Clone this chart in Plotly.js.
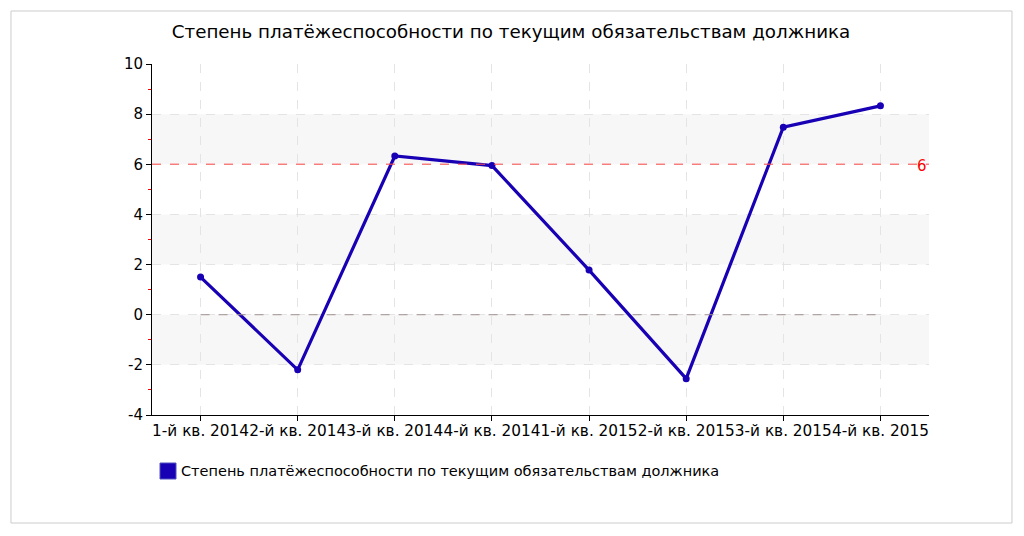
<!DOCTYPE html>
<html><head><meta charset="utf-8">
<script src="https://cdn.plot.ly/plotly-3.0.1.min.js"></script>
<style>html,body{margin:0;padding:0;background:#fff}#c{width:1024px;height:536px}</style>
</head><body><div id="c"></div>
<script>
const categories = ["1-й кв. 2014","2-й кв. 2014","3-й кв. 2014","4-й кв. 2014","1-й кв. 2015","2-й кв. 2015","3-й кв. 2015","4-й кв. 2015"];
const values = [1.5, -2.2, 6.33, 5.95, 1.78, -2.55, 7.48, 8.33];
const seriesName = "Степень платёжеспособности по текущим обязательствам должника";
const titleText = "Степень платёжеспособности по текущим обязательствам должника";
const yTickVals = [-4, -2, 0, 2, 4, 6, 8, 10];
const yTickText = ["-4", "-2", "0", "2", "4", "6", "8", "10"];
const thresholdValue = 6;
const bands = [[6,8],[2,4],[-2,0]];

const idx = categories.map((c,i)=>i);
const font = "DejaVu Sans, Verdana, sans-serif";
const lineColor = "#1800b4";

const traces = [
  {x: idx, y: values, type: "scatter", mode: "lines+markers", showlegend: false,
   line: {color: lineColor, width: 3.2}, marker: {color: lineColor, size: 7}}
];

const shapes = [];
bands.forEach(b => shapes.push({type:"rect", xref:"paper", yref:"y", x0:0, x1:1, y0:b[0], y1:b[1], fillcolor:"#f7f7f7", line:{width:0}, layer:"below"}));
shapes.push({type:"line", xref:"paper", yref:"y", x0:0, x1:1, y0:thresholdValue, y1:thresholdValue, line:{color:"rgba(255,80,80,0.7)", width:1.5, dash:"dash"}});
shapes.push({type:"line", xref:"x", yref:"y", x0:idx[0], x1:idx[idx.length-1], y0:0, y1:0, line:{color:"#a09090", width:1, dash:"dash"}});
shapes.push({type:"rect", xref:"paper", yref:"paper", x0:-0.1815, x1:1.1068, y0:-0.3077, y1:1.151, line:{color:"#cccccc", width:1}, fillcolor:"rgba(0,0,0,0)"});
// legend swatch
shapes.push({type:"rect", xref:"paper", yref:"paper", x0:(160-152)/777, x1:(176-152)/777, y0:(415-479)/351, y1:(415-463)/351, line:{color:"#5050c0", width:1}, fillcolor:lineColor});

const layout = {
  width: 1024, height: 536,
  margin: {l:152, r:95, t:64, b:121},
  paper_bgcolor: "#fff", plot_bgcolor: "rgba(0,0,0,0)",
  font: {family: font, size: 15, color: "#000"},
  title: {text: titleText, x: 511/1024, xref: "container", xanchor: "center", y: 1 - 32/536, yanchor: "middle", font: {family: font, size: 18.3, color: "#000"}},
  xaxis: {range: [-0.5, 7.5], tickvals: idx, ticktext: categories, tickangle: 0, showline: true, linecolor: "#000", linewidth: 1,
          ticks: "outside", ticklen: 5, tickcolor: "#000", showgrid: true, gridcolor: "#e4e4e4", griddash: "dash",
          zeroline: false, tickfont: {family: font, size: 15.3}, ticklabelstandoff: -3, fixedrange: true},
  yaxis: {range: [-4, 10], tickvals: yTickVals, ticktext: yTickText, showline: true, linecolor: "#000", linewidth: 1,
          ticks: "outside", ticklen: 5, tickcolor: "#000", showgrid: true, gridcolor: "#e4e4e4", griddash: "dash",
          zeroline: false, tickfont: {family: font, size: 15},
          minor: {dtick: 1, tick0: 0, ticks: "outside", ticklen: 3, tickcolor: "red", showgrid: false}},
  shapes: shapes,
  annotations: [
    {xref:"paper", yref:"y", x:1, y:thresholdValue, text:String(thresholdValue), showarrow:false, xanchor:"right", yanchor:"middle", yshift:-2, font:{family:font, size:15, color:"red"}},
    {xref:"paper", yref:"paper", x:(179-152)/777, y:(415-471)/351, text:seriesName, showarrow:false, xanchor:"left", yanchor:"middle", font:{family:font, size:14.5, color:"#000"}}
  ],
  showlegend: false
};
Plotly.newPlot("c", traces, layout, {displayModeBar:false, staticPlot:true});
</script></body></html>
